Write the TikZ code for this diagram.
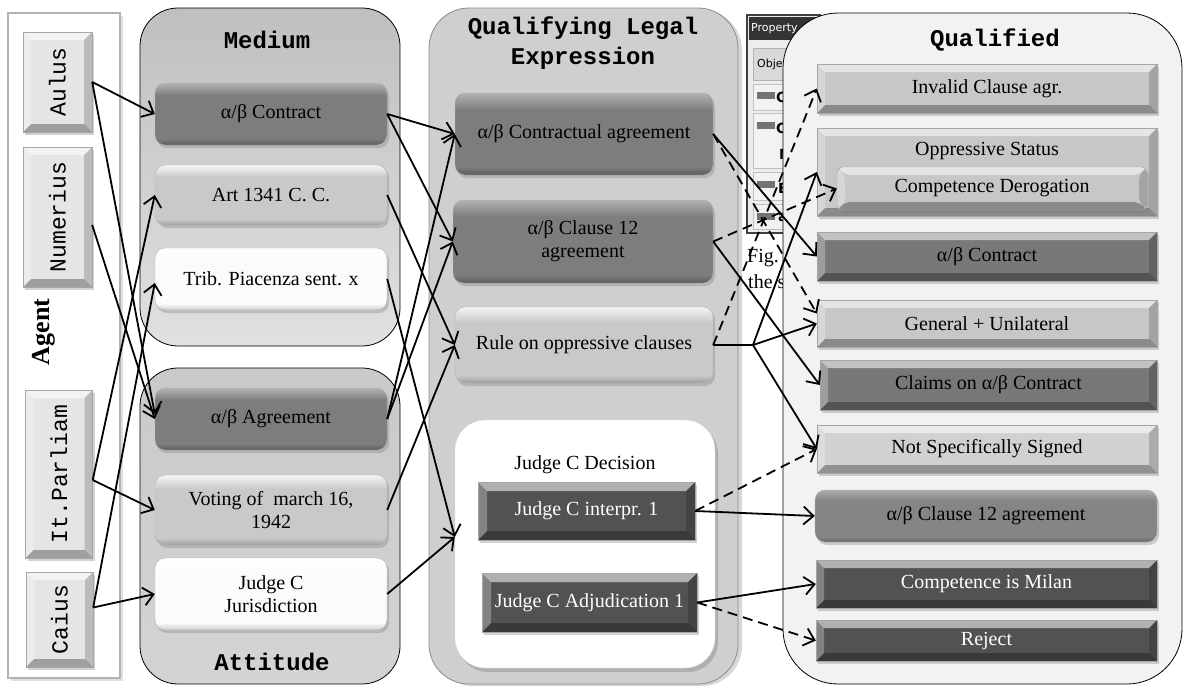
\documentclass[tikz,border=0pt]{standalone}
\usepackage{fontspec}
\setmainfont{Liberation Serif}
\setmonofont{Liberation Mono}
\setsansfont{DejaVu Sans}
\usetikzlibrary{arrows.meta,shadows}

% button tones: top edge, body, bottom edge
\definecolor{dkT}{gray}{0.70}\definecolor{dkM}{gray}{0.49}\definecolor{dkB}{gray}{0.36}
\definecolor{ltT}{gray}{0.96}\definecolor{ltM}{gray}{0.79}\definecolor{ltB}{gray}{0.62}
\definecolor{whT}{gray}{1.00}\definecolor{whM}{gray}{0.985}\definecolor{whB}{gray}{0.80}
\definecolor{mdT}{gray}{0.68}\definecolor{mdM}{gray}{0.52}\definecolor{mdB}{gray}{0.40}
% flat fills for bevelled boxes and panels
\definecolor{bvLight}{gray}{0.78}
\definecolor{bvPale}{gray}{0.82}
\definecolor{bvMid}{gray}{0.47}
\definecolor{bvDark}{gray}{0.32}
\definecolor{bvAgent}{gray}{0.90}
\definecolor{qleBg}{gray}{0.81}
\definecolor{qualBg}{gray}{0.95}

\newcommand\btnshading[4]{\pgfdeclareverticalshading{#1}{100bp}{color(0bp)=(#4); color(25bp)=(#4); color(30bp)=(#3); color(65bp)=(#3); color(75bp)=(#2); color(100bp)=(#2)}}
\btnshading{btnDark}{dkT}{dkM}{dkB}
\btnshading{btnLight}{ltT}{ltM}{ltB}
\btnshading{btnWhite}{whT}{whM}{whB}
\btnshading{btnMid}{mdT}{mdM}{mdB}

\begin{document}
\begin{tikzpicture}[x=1pt,y=-1pt,
  txt/.style={font=\fontsize{20}{23}\selectfont},
  wtxt/.style={txt,text=white},
  ttl/.style={font=\ttfamily\bfseries\fontsize{24}{30}\selectfont,align=center,inner sep=0pt},
  agtxt/.style={font=\ttfamily\fontsize{23}{23}\selectfont},
  wh/.style 2 args={minimum width=#1pt,minimum height=#2pt,inner sep=2pt},
  softshadow/.style={drop shadow={opacity=.35,shadow xshift=2pt,shadow yshift=-3pt}},
  btn/.style={shade,shading=#1,rounded corners=10pt,draw=black!30,line width=.4pt,
    align=center,txt,softshadow},
  bevelbox/.style={path picture={
    \coordinate (bvA) at (path picture bounding box.south west);
    \coordinate (bvB) at (path picture bounding box.south east);
    \coordinate (bvC) at (path picture bounding box.north east);
    \coordinate (bvD) at (path picture bounding box.north west);
    \fill[white,opacity=.55] (bvD) -- (bvC) -- ([shift={(-#1,-#1)}]bvC) -- ([shift={(#1,-#1)}]bvD) -- cycle;
    \fill[black,opacity=.30] (bvA) -- (bvB) -- ([shift={(-#1,#1)}]bvB) -- ([shift={(#1,#1)}]bvA) -- cycle;
    \fill[white,opacity=.28] (bvA) -- (bvD) -- ([shift={(#1,-#1)}]bvD) -- ([shift={(#1,#1)}]bvA) -- cycle;
    \fill[black,opacity=.18] (bvB) -- (bvC) -- ([shift={(-#1,-#1)}]bvC) -- ([shift={(-#1,#1)}]bvB) -- cycle;
  }},
  bev/.style 2 args={fill=#1,draw=black!35,line width=.4pt,bevelbox=#2,align=center,txt,softshadow},
  panel/.style={draw=black,line width=.8pt,rounded corners=#1},
  conn/.style={draw,line width=1.8pt,-{Straight Barb[length=10pt,width=18pt]}},
  dconn/.style={conn,dash pattern=on 10pt off 6pt}
]
\useasboundingbox (0,0) rectangle (1184,686);
\fill[white] (0,0) rectangle (1184,686);
\clip (0,0) rectangle (1184,686);

% ---------- containers ----------
\node[draw=black!30,line width=2pt,fill=white,wh={112}{665},
  drop shadow={opacity=.25,shadow xshift=3pt,shadow yshift=-3pt}] (agent) at (64,345.5) {};
\node[rotate=90,font=\bfseries\fontsize{26}{26}\selectfont] (agentlbl) at (44,332) {Agent};

\node[panel=38pt,top color=black!25,bottom color=black!12,wh={260}{338}] (medium) at (270,177) {};
\node[ttl] (mediumlbl) at (267,40) {Medium};

\node[panel=38pt,top color=black!21,bottom color=black!17,wh={260}{316}] (attitude) at (270,526) {};
\node[ttl] (attitudelbl) at (272,662) {Attitude};

\node[draw=black!45,line width=.8pt,rounded corners=40pt,fill=qleBg,wh={309}{676},
  drop shadow={opacity=.3,shadow xshift=4pt,shadow yshift=-2pt}] (qle) at (583.5,346) {};
\node[ttl] (qlelbl) at (583,43) {Qualifying Legal\\Expression};

% property sheet lying underneath the last panel
\draw[fill=black!7,draw=black!75,line width=1.2pt] (747,15) rectangle (820,233);
\fill[black!80] (749,17) rectangle (820,40);
\node[anchor=west,font=\sffamily\fontsize{11}{12}\selectfont,text=white,inner sep=0pt] (propttl) at (751,28.5) {Property};
\draw[fill=black!15,draw=black!30] (753,48) rectangle (820,80);
\node[anchor=west,font=\sffamily\fontsize{11}{12}\selectfont,inner sep=0pt] (propobj) at (757,64) {Object};
\draw[fill=black!5,draw=black!25] (753,84) rectangle (820,110);
\draw[fill=black!5,draw=black!25] (753,113) rectangle (820,168);
\draw[fill=black!5,draw=black!25] (753,172) rectangle (820,200);
\draw[fill=black!5,draw=black!25] (753,204) rectangle (820,229);
\fill[black!55] (757,92) rectangle (775,99);
\fill[black!55] (757,122) rectangle (775,129);
\fill[black!55] (757,181) rectangle (775,188);
\fill[black!55] (757,213) rectangle (775,220);
\node[anchor=west,font=\sffamily\bfseries\fontsize{14}{14}\selectfont,inner sep=0pt] (pc1) at (776,97) {C};
\node[anchor=west,font=\sffamily\bfseries\fontsize{14}{14}\selectfont,inner sep=0pt] (pc2) at (776,128) {C};
\node[anchor=west,font=\sffamily\bfseries\fontsize{14}{14}\selectfont,inner sep=0pt] (pc3) at (779,154) {N};
\node[anchor=west,font=\sffamily\bfseries\fontsize{14}{14}\selectfont,inner sep=0pt] (pc4) at (778,188) {B};
\node[anchor=west,font=\sffamily\bfseries\fontsize{14}{14}\selectfont,inner sep=0pt] (pc5) at (778,218) {a};
\node[anchor=west,txt,inner sep=0pt] (figtxt) at (747,258) {Fig. 1};
\node[anchor=west,txt,inner sep=0pt] (figtxt2) at (748,284) {the sys};

\node[panel=55pt,fill=qualBg,wh={399}{671}] (qual) at (982.5,348.5) {};
\node[ttl] (quallbl) at (995,40) {Qualified};

% ---------- agents ----------
\node[bev={bvAgent}{8pt},wh={69}{100},agtxt] (aulus) at (57.5,82) {\rotatebox{90}{Aulus}};
\node[bev={bvAgent}{8pt},wh={69}{140},agtxt] (numerius) at (57.5,217) {\rotatebox{90}{Numerius}};
\node[bev={bvAgent}{8pt},wh={67}{168},agtxt] (parliam) at (59,474) {\rotatebox{90}{It.Parliam}};
\node[bev={bvAgent}{8pt},wh={67}{95},agtxt] (caius) at (59.5,619.5) {\rotatebox{90}{Caius}};

% ---------- medium / attitude ----------
\node[btn=btnDark,wh={232}{62}] (mCon) at (271,114) {α/β Contract};
\node[btn=btnLight,wh={232}{60}] (mArt) at (271,195) {Art 1341 C. C.};
\node[btn=btnWhite,wh={232}{62}] (mTrib) at (271,279) {Trib. Piacenza sent. x};
\node[btn=btnDark,wh={232}{62}] (aAgr) at (271,419) {α/β Agreement};
\node[btn=btnLight,wh={232}{70}] (aVot) at (271,510) {Voting of~~march 16,\\1942};
\node[btn=btnWhite,wh={232}{72}] (aJud) at (271,594) {Judge C\\Jurisdiction};

% ---------- qualifying legal expression ----------
\node[btn=btnDark,wh={258}{82}] (qCon) at (584,134) {α/β Contractual agreement};
\node[btn=btnDark,wh={260}{83}] (qCl) at (583,241.5) {α/β Clause 12\\agreement};
\node[btn=btnLight,wh={258}{76}] (qRule) at (584,345) {Rule on oppressive clauses};
\node[draw=black!15,fill=white,rounded corners=30pt,wh={260}{248},
  drop shadow={opacity=.4,shadow xshift=3pt,shadow yshift=-4pt}] (qDec) at (585,544) {};
\node[txt,inner sep=0pt] (qDeclbl) at (585,465) {Judge C Decision};
\node[bev={bvDark}{9pt},wh={217}{58},wtxt] (qInt) at (586.5,511) {Judge C interpr. 1};
\node[bev={bvDark}{9pt},wh={215}{59},wtxt] (qAdj) at (589.5,602.5) {Judge C Adjudication 1};

% ---------- qualified ----------
\node[bev={bvLight}{8pt},wh={340}{49}] (rInv) at (987,88.5) {Invalid Clause agr.};
\node[bev={bvLight}{8pt},wh={340}{88}] (rOpp) at (987,172) {};
\node[txt,inner sep=0pt] (rOpplbl) at (987,151) {Oppressive Status};
\node[bev={bvLight}{8pt},rounded corners=6pt,wh={310}{43}] (rDer) at (992,188.5) {Competence Derogation};
\node[bev={bvMid}{8pt},wh={340}{49}] (rCon) at (987,256.5) {α/β Contract};
\node[bev={bvLight}{8pt},wh={340}{47}] (rGen) at (987,323.5) {General + Unilateral};
\node[bev={bvMid}{8pt},wh={337}{50}] (rClaim) at (988.5,385) {Claims on α/β Contract};
\node[bev={bvPale}{8pt},wh={340}{48}] (rNot) at (987,449) {Not Specifically Signed};
\node[btn=btnMid,wh={342}{52}] (rCl) at (986,516) {α/β Clause 12 agreement};
\node[bev={bvDark}{8pt},wh={341}{48},wtxt] (rMil) at (986.5,584) {Competence is Milan};
\node[bev={bvDark}{8pt},wh={341}{41},wtxt] (rRej) at (986.5,640.5) {Reject};

% ---------- connectors: agents ----------
\draw[conn] (aulus.east) -- (mCon.west);
\draw[conn] (aulus.east) -- ([yshift=5pt]aAgr.west);
\draw[conn] ([yshift=-8pt]numerius.east) -- (aAgr.west);
\draw[conn] ([yshift=-6pt]parliam.east) -- (mArt.west);
\draw[conn] ([yshift=-6pt]parliam.east) -- (aVot.west);
\draw[conn] ([yshift=12pt]caius.east) -- ([yshift=-4pt]mTrib.west);
\draw[conn] ([yshift=12pt]caius.east) -- (aJud.west);

% ---------- connectors: medium/attitude to expressions ----------
\draw[conn] (mCon.east) -- (qCon.west);
\draw[conn] (mCon.east) -- (qCl.west);
\draw[conn] (mArt.east) -- (qRule.west);
\draw[conn] (mTrib.east) -- ([yshift=7pt]qDec.west);
\draw[conn] (aAgr.east) -- (qCon.west);
\draw[conn] (aAgr.east) -- (qCl.west);
\draw[conn] (aVot.east) -- (qRule.west);
\draw[conn] (aJud.east) -- ([yshift=7pt]qDec.west);

% ---------- connectors: expressions to qualified ----------
\coordinate (fork) at (753,345);
\draw[conn] (qCon.east) -- (rCon.west);
\draw[dconn] (qCon.east) -- ([yshift=10pt]rGen.west);
\draw[dconn] (qCl.east) -- (rDer.west);
\draw[conn] (qCl.east) -- (rClaim.west);
\draw[dconn] (qRule.east) -- (rInv.west);
\draw[conn] (qRule.east) -- (fork) -- (rOpp.west);
\draw[conn] (fork) -- (rGen.west);
\draw[conn] (fork) -- (rNot.west);
\draw[conn] (qInt.east) -- (rCl.west);
\draw[dconn] (qInt.east) -- (rNot.west);
\draw[conn] (qAdj.east) -- (rMil.west);
\draw[dconn] (qAdj.east) -- (rRej.west);
\end{tikzpicture}
\end{document}
